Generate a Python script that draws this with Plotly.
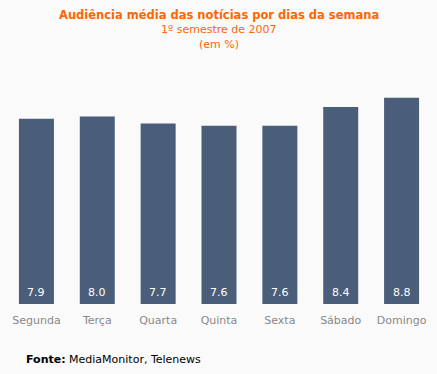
import plotly.graph_objects as go

days = ["Segunda", "Terça", "Quarta", "Quinta", "Sexta", "Sábado", "Domingo"]
audiencia = [7.9, 8.0, 7.7, 7.6, 7.6, 8.4, 8.8]
labels = ["7.9", "8.0", "7.7", "7.6", "7.6", "8.4", "8.8"]

W, H = 437, 374
L, R, T, B = 6, 5, 93.4, 70
ph = H - T - B
pw = W - L - R
BG = "#fafafa"
ORANGE = "#ff6600"
BAR = "#4a5e79"
FONT = "DejaVu Sans"

def py(p):
    return (H - B - p) / ph

def px(p):
    return (p - L) / pw

fig = go.Figure(go.Bar(x=days, y=audiencia, marker=dict(color=BAR, line=dict(width=0)),
                       hoverinfo="skip"))

ann = []
for d, lab in zip(days, labels):
    ann.append(dict(x=d, y=0, xref="x", yref="y", text=lab, showarrow=False,
                    yanchor="middle", yshift=12, font=dict(family=FONT, size=11, color="white")))

ann += [
    dict(x=px(218.5), y=py(16), xref="paper", yref="paper", text="<b>Audiência média das notícias por dias da semana</b>",
         showarrow=False, yanchor="middle", font=dict(family=FONT, size=11.5, color=ORANGE)),
    dict(x=px(218.5), y=py(30.5), xref="paper", yref="paper", text="1º semestre de 2007",
         showarrow=False, yanchor="middle", font=dict(family=FONT, size=11, color=ORANGE)),
    dict(x=px(218.5), y=py(45), xref="paper", yref="paper", text="(em %)",
         showarrow=False, yanchor="middle", font=dict(family=FONT, size=11, color=ORANGE)),
    dict(x=px(24), y=py(359), xref="paper", yref="paper", text="<b>Fonte:</b> MediaMonitor, Telenews",
         showarrow=False, xanchor="left", yanchor="middle", font=dict(family=FONT, size=11, color="black")),
]

fig.update_layout(
    width=W, height=H,
    margin=dict(l=L, r=R, t=T, b=B, pad=0),
    paper_bgcolor=BG, plot_bgcolor=BG,
    bargap=0.425,
    showlegend=False,
    annotations=ann,
    xaxis=dict(showgrid=False, zeroline=False, showline=False, ticks="",
               tickfont=dict(family=FONT, size=11, color="#888888"), ticklabelstandoff=8),
    yaxis=dict(range=[0, 9], visible=False, showgrid=False, zeroline=False),
)

fig.write_html("out.html", config={"displayModeBar": False},
               post_script="document.body.style.margin='0';document.body.style.overflow='hidden';")
